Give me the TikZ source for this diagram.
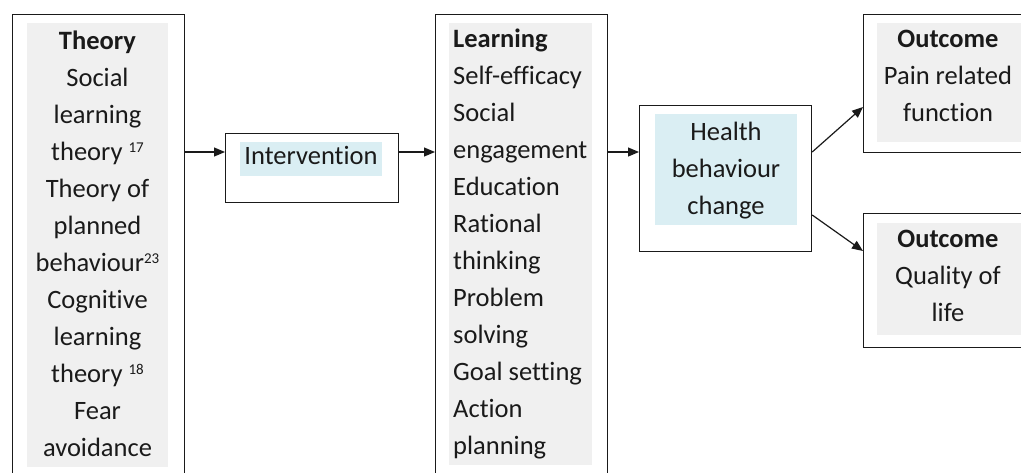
\documentclass[tikz,border=0pt]{standalone}
\usepackage{fontspec}
\setmainfont{Carlito}[Ligatures=NoCommon]
\usetikzlibrary{arrows.meta}
\definecolor{greybg}{HTML}{F0F0F0}
\definecolor{lblue}{HTML}{DAEEF3}
\definecolor{ink}{HTML}{1A1A1A}
\newcommand\supnum[1]{\raisebox{0.3em}{\fontsize{15}{15}\selectfont #1}}
\begin{document}
\begin{tikzpicture}[x=1pt,y=-1pt,
  frame/.style={draw=ink, line width=1.2pt, inner sep=0pt, anchor=north west},
  txt/.style={inner sep=0pt, anchor=base, text=ink, font=\fontsize{26.5}{37}\selectfont},
  txtl/.style={txt, anchor=base west},
  arr/.style={draw=ink, line width=1.2pt, -{Triangle[length=11pt,width=9pt]}}]
\clip (0,0) rectangle (1021,472);
\fill[white] (0,0) rectangle (1021,472);
% frames
\node[frame, minimum width=172pt, minimum height=480pt] (theory) at (12,14) {};
\node[frame, minimum width=173pt, minimum height=69pt] (interv) at (225,133) {};
\node[frame, minimum width=172pt, minimum height=480pt] (learn) at (435,14) {};
\node[frame, minimum width=172pt, minimum height=146pt] (health) at (639,105) {};
\node[frame, minimum width=172pt, minimum height=138pt] (out1) at (863,14) {};
\node[frame, minimum width=172pt, minimum height=134pt] (out2) at (863,213) {};
% shaded text backgrounds
\fill[greybg] (27,23) rectangle (168,467);
\fill[greybg] (449,23) rectangle (592,465);
\fill[greybg] (877,23) rectangle (1030,142);
\fill[greybg] (877,223) rectangle (1030,335);
\fill[lblue] (655,114) rectangle (797,225);
\fill[lblue] (240,142) rectangle (382,176);
% texts
\node[txt] (ttheory) at (97.5,49) {\parbox[t]{150pt}{\centering
  \textbf{Theory}\\Social\\learning\\theory \supnum{17}\\Theory of\\planned\\behaviour\supnum{23}\\Cognitive\\learning\\theory \supnum{18}\\Fear\\avoidance}};
\node[txt] (tinterv) at (311,164) {Intervention};
\node[txtl] (tlearn) at (453,47) {\parbox[t]{150pt}{\raggedright
  \textbf{Learning}\\Self-efficacy\\Social\\engagement\\Education\\Rational\\thinking\\Problem\\solving\\Goal setting\\Action\\planning}};
\node[txt] (thealth) at (726,140) {\parbox[t]{150pt}{\centering Health\\behaviour\\change}};
\node[txt] (tout1) at (948,47) {\parbox[t]{150pt}{\centering \textbf{Outcome}\\Pain related\\function}};
\node[txt] (tout2) at (948,247) {\parbox[t]{150pt}{\centering \textbf{Outcome}\\Quality of\\life}};
% connector levels
\coordinate (r1) at (0,152);
\coordinate (r2) at (0,107);
\coordinate (r3) at (0,215);
\coordinate (r4) at (0,251);
\draw[arr] (theory.east |- r1) -- (interv.west |- r1);
\draw[arr] (interv.east |- r1) -- (learn.west |- r1);
\draw[arr] (learn.east |- r1) -- (health.west |- r1);
\draw[arr] (health.east |- r1) -- (out1.west |- r2);
\draw[arr] (health.east |- r3) -- (out2.west |- r4);
\end{tikzpicture}
\end{document}
